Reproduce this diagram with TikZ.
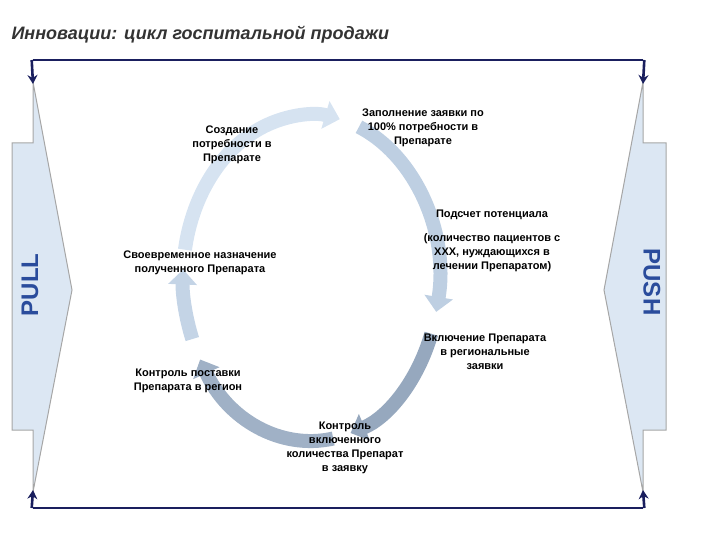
\documentclass[tikz,border=0pt]{standalone}
\usepackage{fontspec}
\setmainfont{Liberation Sans}
\usetikzlibrary{arrows.meta}
\definecolor{navy}{HTML}{1A1F5E}
\definecolor{barfill}{HTML}{DCE7F3}
\definecolor{pullblue}{HTML}{2A4C9C}
\tikzset{
    lbl/.style = {align=center, inner sep=0pt, font=\bfseries\fontsize{11}{14}\selectfont, text=black},
    bar/.style = {fill=barfill, draw=gray!70, line width=1pt},
    frame/.style = {draw=navy, line width=2.6pt, -{Stealth[length=9pt,width=10pt]}},
    cyc/.style = {line width=14pt, -{Triangle[length=15pt,width=28pt]}},
    side/.style = {font=\bfseries\fontsize{24}{24}\selectfont, text=pullblue}
}
\begin{document}
\begin{tikzpicture}[x=1pt,y=-1pt]
    \useasboundingbox (0,0) rectangle (720,540);

    % title
    \node[anchor=west, font=\bfseries\itshape\fontsize{18}{18}\selectfont, text=black!80] (title) at (8,35) {Инновации: цикл госпитальной продажи};

    % side bars
    \draw[bar] (33,82) -- (72,290) -- (33,492) -- (33,430) -- (12,430) -- (12,143) -- (33,143) -- cycle;
    \draw[bar] (643,82) -- (604,290) -- (643,492) -- (643,430) -- (666,430) -- (666,143) -- (643,143) -- cycle;
    \node[side, rotate=90] (pull) at (30,285) {PULL};
    \node[side, rotate=-90] (push) at (652,282) {PUSH};

    % frame
    \coordinate (tl) at (33,60);
    \coordinate (tr) at (643,60);
    \coordinate (bl) at (33,508);
    \coordinate (br) at (643,508);
    \draw[draw=navy, line width=2.6pt] (tl) -- (tr);
    \draw[draw=navy, line width=2.6pt] (bl) -- (br);
    \draw[frame] ([xshift=-1.3pt]tl) -- (33,84);
    \draw[frame] ([xshift=1.3pt]tr) -- (643,84);
    \draw[frame] ([xshift=-1.3pt]bl) -- (33,490);
    \draw[frame] ([xshift=1.3pt]br) -- (643,490);

    % cycle
    \draw[cyc, color={rgb,255:red,214;green,227;blue,241}] (311,278) ++(190:128 and 163) arc[start angle=190, end angle=283, x radius=128, y radius=163];
    \draw[cyc, color={rgb,255:red,190;green,207;blue,226}] (311,278) ++(292:128 and 163) arc[start angle=292, end angle=372, x radius=128, y radius=163];
    \draw[cyc, color={rgb,255:red,150;green,168;blue,190}] (311,278) ++(20:128 and 163) arc[start angle=20, end angle=72, x radius=128, y radius=163];
    \draw[cyc, color={rgb,255:red,160;green,177;blue,198}] (311,278) ++(80:128 and 163) arc[start angle=80, end angle=150, x radius=128, y radius=163];
    \draw[cyc, color={rgb,255:red,196;green,212;blue,230}] (311,278) ++(158:128 and 163) arc[start angle=158, end angle=183, x radius=128, y radius=163];

    % steps
    \node[lbl] (need) at (232,145) {Создание\\потребности в\\Препарате};
    \node[lbl] (order) at (423,128) {Заполнение заявки по\\100\% потребности в\\Препарате};
    \node[lbl] (count) at (492,215) {Подсчет потенциала};
    \node[lbl] (countnote) at (492,253) {(количество пациентов с\\ХХХ, нуждающихся в\\лечении Препаратом)};
    \node[lbl] (include) at (485,352) {Включение Препарата\\в региональные\\заявки};
    \node[lbl] (check) at (345,448) {Контроль\\включенного\\количества Препарат\\в заявку};
    \node[lbl] (supply) at (188,381) {Контроль поставки\\Препарата в регион};
    \node[lbl] (assign) at (200,263) {Своевременное назначение\\полученного Препарата};
\end{tikzpicture}
\end{document}
